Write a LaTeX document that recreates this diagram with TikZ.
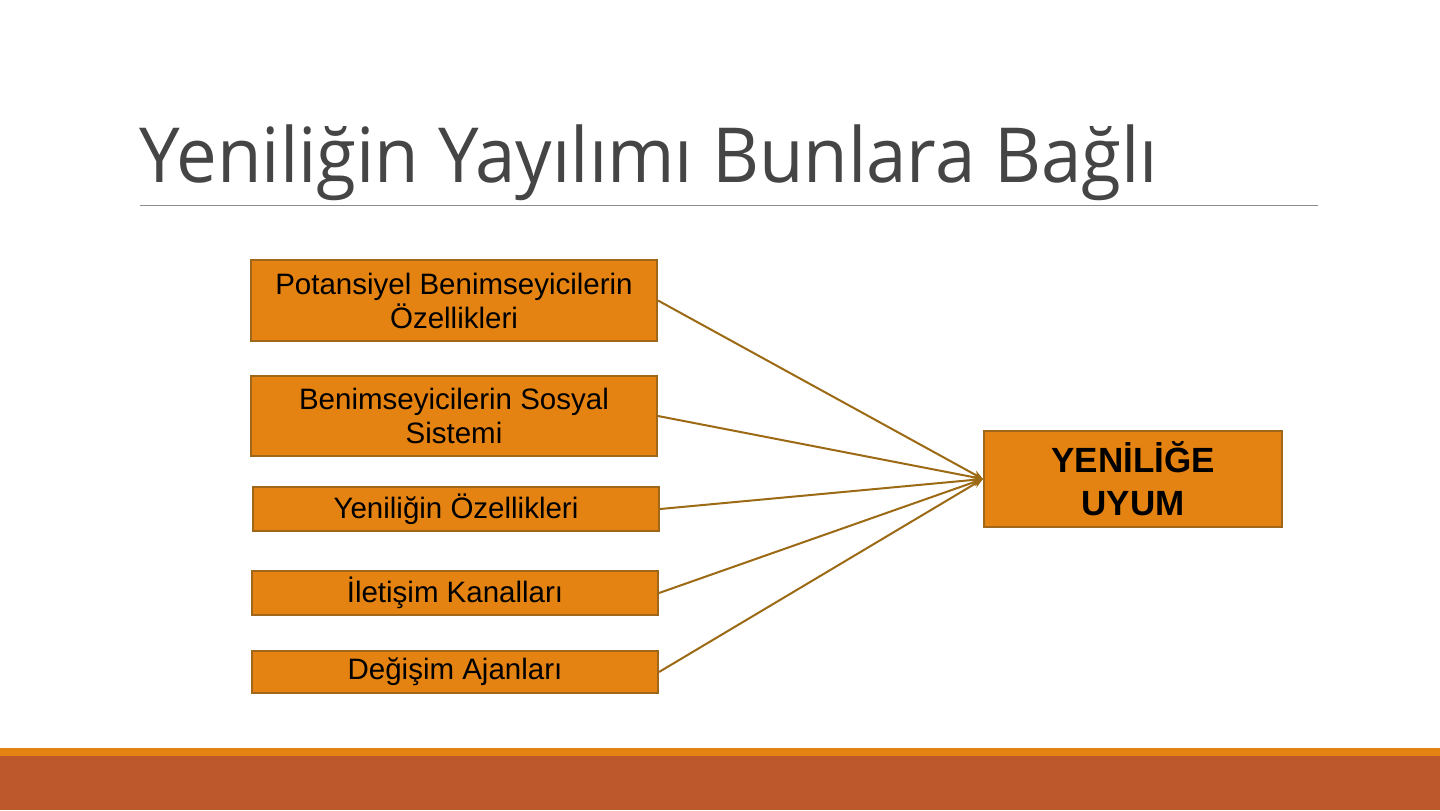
\documentclass[tikz,border=0pt]{standalone}
\usepackage{fontspec}
\setmainfont{Liberation Sans}
\newfontfamily\titlefont[FakeStretch=0.955]{Open Sans}
\usetikzlibrary{arrows.meta}
\definecolor{boxfill}{HTML}{E48312}
\definecolor{boxline}{HTML}{A0671A}
\definecolor{edgecol}{HTML}{9C6A14}
\definecolor{titlecol}{HTML}{454545}
\definecolor{rulecol}{HTML}{8C8C8C}
\definecolor{barorange}{HTML}{E48312}
\definecolor{bardark}{HTML}{BD582C}
\tikzset{
  srcbox/.style={draw=boxline, fill=boxfill, line width=1pt, minimum width=203pt, inner sep=0pt, align=center, font=\fontsize{14.75pt}{17pt}\selectfont, text=black},
  tgtbox/.style={draw=boxline, fill=boxfill, line width=1pt, minimum width=149pt, minimum height=48pt, inner sep=0pt, align=center, font=\fontsize{17.5pt}{21.5pt}\selectfont\bfseries, text=black},
  conn/.style={draw=edgecol, line width=1pt, -{Stealth[length=5pt,width=4pt]}}
}
\begin{document}
\begin{tikzpicture}[x=0.5pt,y=-0.5pt]
\useasboundingbox (0,0) rectangle (1440,810);
\fill[white] (0,0) rectangle (1440,810);
% bottom bars
\fill[barorange] (0,748) rectangle (1440,756);
\fill[bardark] (0,756) rectangle (1440,810);
% title
\node[anchor=base west, inner sep=0pt, text=titlecol, font=\titlefont\fontsize{38pt}{46pt}\selectfont] (title) at (139,182) {Yeniliğin Yayılımı Bunlara Bağlı};
\coordinate (rl) at (140,205.5);
\coordinate (rr) at (1318,205.5);
\draw[rulecol, line width=0.5pt] (rl) -- (rr);
% source boxes
\node[srcbox, minimum height=40.5pt] (b1) at (454,300.5) {Potansiyel Benimseyicilerin\\Özellikleri};
\node[srcbox, minimum height=40pt] (b2) at (454,416) {Benimseyicilerin Sosyal\\Sistemi};
\node[srcbox, minimum height=22pt] (b3) at (456,509) {Yeniliğin Özellikleri};
\node[srcbox, minimum height=22pt] (b4) at (455,593) {İletişim Kanalları};
\node[srcbox, minimum height=21pt] (b5) at (455,672) {Değişim Ajanları};
% target
\node[tgtbox] (t) at (1133,479) {YENİLİĞE\\UYUM};
% connectors
\foreach \b in {b1,b2,b3,b4,b5}{
  \draw[conn] (\b.east) -- (t.west);
}
\end{tikzpicture}
\end{document}
